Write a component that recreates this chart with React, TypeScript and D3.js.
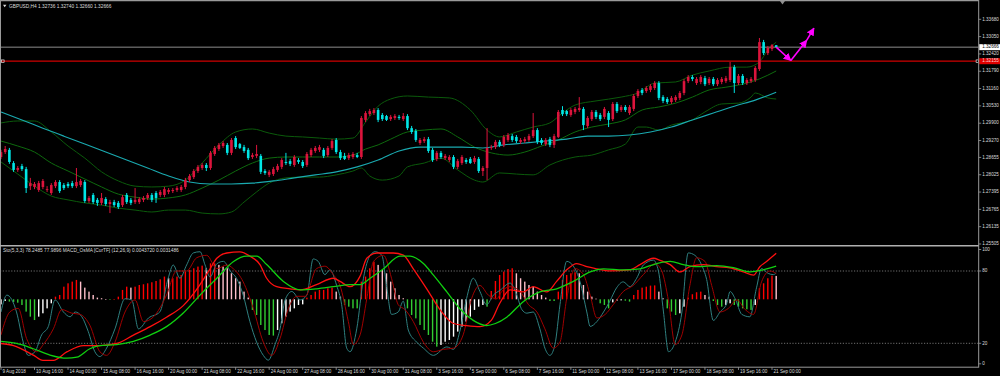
import React from "react";
import * as d3 from "d3";

const W = 1000;
const H = 376;

// ---------- price data (H4 bars, index 0 = 9 Aug 2018 08:00) ----------
const open = [1.2867,1.2885,1.2893,1.2845,1.2820,1.2834,1.2823,1.2761,1.2758,1.2747,1.2758,1.2747,1.2736,1.2761,1.2776,1.2765,1.2769,1.2772,1.2761,1.2765,
1.2776,1.2707,1.2729,1.2711,1.2700,1.2714,1.2696,1.2703,1.2700,1.2692,1.2729,1.2711,1.2703,1.2703,1.2711,1.2718,1.2729,1.2736,1.2729,1.2729,
1.2740,1.2743,1.2747,1.2747,1.2758,1.2783,1.2794,1.2816,1.2827,1.2838,1.2827,1.2878,1.2896,1.2907,1.2911,1.2882,1.2936,1.2914,1.2903,1.2893,
1.2867,1.2871,1.2871,1.2816,1.2802,1.2805,1.2820,1.2831,1.2849,1.2852,1.2838,1.2856,1.2849,1.2838,1.2874,1.2889,1.2893,1.2893,1.2874,1.2900,
1.2929,1.2885,1.2871,1.2863,1.2867,1.2874,1.2867,1.3002,1.3023,1.3027,1.3038,1.3020,1.3016,1.3005,1.3009,1.3013,1.3005,1.3016,1.2972,1.2962,
1.2918,1.2925,1.2932,1.2893,1.2860,1.2882,1.2863,1.2856,1.2867,1.2831,1.2845,1.2856,1.2860,1.2849,1.2860,1.2816,1.2827,1.2900,1.2903,1.2922,
1.2911,1.2929,1.2943,1.2940,1.2922,1.2925,1.2929,1.2943,1.2965,1.2929,1.2914,1.2932,1.2911,1.2940,1.3038,1.3034,1.3020,1.3031,1.3038,1.3042,
1.2980,1.3005,1.3031,1.3020,1.3013,1.3027,1.3005,1.3060,1.3038,1.3049,1.3027,1.3042,1.3089,1.3111,1.3107,1.3111,1.3118,1.3136,1.3085,1.3078,
1.3067,1.3074,1.3082,1.3100,1.3143,1.3158,1.3136,1.3140,1.3154,1.3136,1.3151,1.3132,1.3140,1.3143,1.3147,1.3194,1.3136,1.3162,1.3136,1.3143,
1.3147,1.3187,1.3285,1.3245,1.3260,1.32736];
const high = [1.2893,1.2907,1.2900,1.2852,1.2834,1.2842,1.2831,1.2791,1.2776,1.2780,1.2787,1.2761,1.2772,1.2783,1.2783,1.2772,1.2776,1.2780,1.2827,1.2787,
1.2783,1.2725,1.2736,1.2718,1.2736,1.2721,1.2711,1.2711,1.2707,1.2729,1.2736,1.2718,1.2754,1.2721,1.2725,1.2736,1.2736,1.2743,1.2747,1.2758,
1.2754,1.2754,1.2761,1.2765,1.2791,1.2805,1.2823,1.2838,1.2845,1.2845,1.2889,1.2907,1.2918,1.2925,1.2918,1.2936,1.2943,1.2918,1.2911,1.2900,
1.2882,1.2911,1.2878,1.2823,1.2820,1.2831,1.2842,1.2863,1.2882,1.2860,1.2874,1.2863,1.2856,1.2885,1.2900,1.2907,1.2911,1.2900,1.2907,1.2932,
1.2936,1.2893,1.2882,1.2882,1.2885,1.2882,1.3016,1.3034,1.3042,1.3045,1.3045,1.3027,1.3020,1.3020,1.3023,1.3020,1.3027,1.3023,1.2980,1.2969,
1.2936,1.2940,1.2940,1.2900,1.2889,1.2889,1.2878,1.2874,1.2874,1.2860,1.2874,1.2863,1.2867,1.2871,1.2867,1.2834,1.2972,1.2911,1.2929,1.2929,
1.2947,1.2954,1.2951,1.2947,1.2936,1.2940,1.2951,1.3027,1.2972,1.2936,1.2936,1.2940,1.2951,1.3038,1.3052,1.3038,1.3045,1.3049,1.3085,1.3049,
1.3016,1.3038,1.3038,1.3027,1.3049,1.3034,1.3067,1.3067,1.3056,1.3056,1.3056,1.3096,1.3114,1.3118,1.3125,1.3132,1.3143,1.3143,1.3092,1.3085,
1.3089,1.3092,1.3107,1.3151,1.3165,1.3165,1.3158,1.3165,1.3162,1.3158,1.3158,1.3154,1.3158,1.3162,1.3213,1.3202,1.3169,1.3169,1.3154,1.3158,
1.3198,1.3300,1.3293,1.3271,1.3278,1.32740];
const low = [1.2860,1.2878,1.2842,1.2813,1.2813,1.2816,1.2736,1.2747,1.2750,1.2740,1.2750,1.2740,1.2729,1.2754,1.2736,1.2747,1.2754,1.2754,1.2754,1.2758,
1.2700,1.2700,1.2696,1.2689,1.2692,1.2689,1.2663,1.2685,1.2678,1.2685,1.2696,1.2692,1.2696,1.2696,1.2703,1.2711,1.2703,1.2700,1.2721,1.2721,
1.2732,1.2736,1.2740,1.2740,1.2750,1.2776,1.2787,1.2809,1.2820,1.2816,1.2820,1.2871,1.2889,1.2900,1.2874,1.2874,1.2896,1.2896,1.2882,1.2856,
1.2860,1.2863,1.2805,1.2802,1.2794,1.2798,1.2813,1.2823,1.2838,1.2834,1.2831,1.2842,1.2827,1.2831,1.2867,1.2882,1.2885,1.2863,1.2867,1.2893,
1.2878,1.2856,1.2856,1.2856,1.2860,1.2863,1.2860,1.2994,1.3016,1.3020,1.2994,1.2998,1.2998,1.2998,1.3002,1.3002,1.2998,1.2965,1.2951,1.2922,
1.2911,1.2918,1.2882,1.2849,1.2852,1.2860,1.2856,1.2849,1.2823,1.2823,1.2838,1.2842,1.2842,1.2842,1.2809,1.2798,1.2783,1.2893,1.2896,1.2903,
1.2903,1.2922,1.2922,1.2918,1.2914,1.2918,1.2922,1.2936,1.2914,1.2911,1.2907,1.2903,1.2900,1.2936,1.3016,1.3016,1.3013,1.3023,1.3031,1.2965,
1.2972,1.2998,1.3005,1.2998,1.3005,1.2976,1.2998,1.3027,1.3031,1.3031,1.3020,1.3034,1.3082,1.3092,1.3100,1.3103,1.3111,1.3074,1.3063,1.3060,
1.3060,1.3067,1.3074,1.3092,1.3136,1.3143,1.3129,1.3132,1.3125,1.3129,1.3125,1.3125,1.3132,1.3136,1.3140,1.3100,1.3129,1.3129,1.3129,1.3136,
1.3140,1.3180,1.3238,1.3238,1.3253,1.32660];
const close = [1.2885,1.2896,1.2849,1.2820,1.2827,1.2823,1.2754,1.2772,1.2769,1.2772,1.2780,1.2750,1.2765,1.2776,1.2743,1.2754,1.2761,1.2761,1.2776,1.2780,
1.2707,1.2718,1.2703,1.2700,1.2718,1.2696,1.2703,1.2692,1.2685,1.2721,1.2703,1.2700,1.2711,1.2714,1.2718,1.2729,1.2711,1.2718,1.2740,1.2750,
1.2747,1.2747,1.2754,1.2758,1.2783,1.2798,1.2816,1.2831,1.2838,1.2827,1.2882,1.2900,1.2911,1.2918,1.2882,1.2929,1.2903,1.2900,1.2889,1.2863,
1.2874,1.2878,1.2813,1.2809,1.2813,1.2823,1.2834,1.2856,1.2845,1.2842,1.2867,1.2849,1.2834,1.2878,1.2893,1.2900,1.2903,1.2871,1.2900,1.2925,
1.2885,1.2863,1.2860,1.2874,1.2878,1.2867,1.3009,1.3027,1.3034,1.3038,1.3002,1.3005,1.3002,1.3013,1.3016,1.3009,1.3016,1.2972,1.2958,1.2929,
1.2929,1.2932,1.2889,1.2856,1.2882,1.2867,1.2871,1.2867,1.2831,1.2852,1.2867,1.2849,1.2845,1.2863,1.2816,1.2827,1.2900,1.2903,1.2922,1.2911,
1.2940,1.2947,1.2929,1.2925,1.2929,1.2932,1.2943,1.2965,1.2922,1.2918,1.2929,1.2911,1.2943,1.3031,1.3023,1.3023,1.3038,1.3042,1.3045,1.2983,
1.3009,1.3031,1.3013,1.3005,1.3042,1.3002,1.3060,1.3034,1.3049,1.3038,1.3049,1.3089,1.3107,1.3100,1.3118,1.3125,1.3136,1.3082,1.3071,1.3067,
1.3082,1.3085,1.3100,1.3143,1.3158,1.3151,1.3151,1.3158,1.3132,1.3151,1.3132,1.3147,1.3151,1.3154,1.3194,1.3136,1.3162,1.3136,1.3147,1.3151,
1.3191,1.3285,1.3245,1.3264,1.3274,1.32666];

// ---------- overlays on price chart: [bar index, price] ----------
const maLine: [number, number][] = [[0,1.3031],[5,1.3002],[10,1.2972],[15,1.2943],[20,1.2914],[25,1.2885],[30,1.2856],[35,1.2827],[40,1.2798],[45,1.2776],[50,1.2769],[55,1.2769],[60,1.2772],[65,1.2780],[70,1.2791],[75,1.2802],[80,1.2813],[85,1.2831],[90,1.2856],[95,1.2889],[100,1.2903],[105,1.2903],[110,1.2903],[115,1.2900],[120,1.2911],[125,1.2918],[130,1.2925],[135,1.2932],[140,1.2943],[145,1.2943],[150,1.2947],[155,1.2958],[160,1.2976],[165,1.3002],[170,1.3027],[175,1.3052],[180,1.3074],[185,1.3103]];
const bbUpper: [number, number][] = [[0,1.2991],[4,1.2998],[8,1.2998],[12,1.2958],[16,1.2907],[20,1.2863],[24,1.2813],[28,1.2780],[32,1.2761],[36,1.2758],[40,1.2761],[44,1.2783],[48,1.2845],[52,1.2911],[56,1.2958],[60,1.2969],[64,1.2954],[68,1.2943],[72,1.2940],[76,1.2936],[80,1.2932],[84,1.2936],[87,1.2994],[90,1.3052],[93,1.3078],[97,1.3089],[102,1.3085],[107,1.3082],[112,1.3038],[116,1.2965],[119,1.2940],[123,1.2958],[127,1.2976],[131,1.2991],[134,1.3027],[137,1.3056],[142,1.3071],[148,1.3085],[152,1.3100],[156,1.3136],[161,1.3140],[165,1.3165],[169,1.3180],[174,1.3194],[178,1.3194],[181,1.3213],[183,1.3256],[185,1.3285]];
const bbMiddle: [number, number][] = [[0,1.2925],[4,1.2907],[8,1.2885],[12,1.2845],[16,1.2816],[20,1.2787],[24,1.2758],[28,1.2732],[32,1.2721],[36,1.2714],[40,1.2718],[44,1.2729],[48,1.2754],[52,1.2783],[56,1.2816],[60,1.2845],[64,1.2863],[68,1.2867],[72,1.2867],[76,1.2867],[80,1.2867],[84,1.2874],[87,1.2896],[90,1.2911],[93,1.2932],[97,1.2958],[101,1.2965],[105,1.2969],[109,1.2940],[113,1.2903],[117,1.2882],[121,1.2874],[125,1.2885],[129,1.2907],[133,1.2929],[137,1.2958],[141,1.2976],[145,1.2987],[149,1.3002],[153,1.3038],[157,1.3049],[161,1.3063],[165,1.3085],[169,1.3111],[173,1.3121],[177,1.3132],[181,1.3151],[185,1.3180]];
const bbLower: [number, number][] = [[0,1.2849],[4,1.2805],[8,1.2761],[12,1.2725],[16,1.2711],[20,1.2700],[24,1.2692],[28,1.2681],[32,1.2674],[36,1.2667],[40,1.2674],[44,1.2674],[48,1.2663],[52,1.2660],[55,1.2667],[58,1.2703],[61,1.2740],[64,1.2772],[68,1.2791],[72,1.2794],[76,1.2794],[80,1.2802],[84,1.2816],[86,1.2827],[88,1.2798],[91,1.2783],[95,1.2798],[97,1.2831],[101,1.2845],[105,1.2863],[109,1.2820],[113,1.2783],[115,1.2776],[119,1.2809],[123,1.2805],[127,1.2802],[131,1.2838],[137,1.2867],[141,1.2874],[145,1.2893],[149,1.2914],[152,1.2976],[154,1.2976],[157,1.2965],[160,1.2983],[165,1.3002],[168,1.3031],[172,1.3060],[176,1.3063],[179,1.3085],[180,1.3100],[183,1.3082],[185,1.3078]];
const arrowPath: [number, number][] = [[185,1.32666],[188.5,1.3218],[192.3,1.3292],[194,1.3336]];

const bidPrice = 1.32666;
const levelPrice = 1.32155;
const priceTicks = [1.33680,1.33050,1.32420,1.31790,1.31160,1.30530,1.29900,1.29270,1.28655,1.28025,1.27395,1.26765,1.26135,1.25505];

// ---------- sub-window: Stochastic (0..100) and MACD_OsMA (x1e-4) ----------
const stochMain: [number, number][] = [[0,46],[1.4,60],[3.7,46],[5.3,21],[6.5,10],[8.1,13],[9.7,27],[11.3,34],[12.9,56],[14.9,46],[16.5,42],[17.7,46],[19.3,42],[20.8,30],[22.4,13],[23.6,9],[25.2,16],[27.2,32],[29.6,57],[31.2,56],[32.8,32],[35.2,41],[37.9,46],[39.9,74],[41.1,85],[42.7,74],[44.3,85],[45.9,95],[47.5,96],[48.7,85],[49.9,75],[51.5,86],[53.1,88],[54.7,80],[56.2,74],[57.8,60],[59.4,38],[61,21],[62.6,10],[63.8,6],[65.4,19],[66.6,32],[67.8,56],[69.4,63],[71.4,56],[73,60],[74.5,90],[75.7,88],[77.3,77],[78.5,81],[80.1,68],[81.3,52],[82.5,16],[83.3,13],[84.9,32],[86.5,74],[88.1,93],[89.3,96],[90.9,93],[92,68],[93.2,44],[94.8,46],[96,55],[97.2,31],[99.2,21],[100.8,16],[103.2,10],[106.4,17],[108,15],[109.5,30],[111.1,57],[112.7,74],[114.3,63],[115.9,52],[117.5,60],[119.1,64],[121.5,70],[123.1,60],[124.3,48],[125.5,45],[127,46],[128.6,32],[129.8,16],[131,10],[132.2,19],[133.4,52],[135,88],[136.6,84],[138.2,71],[139.8,46],[140.6,34],[142.2,38],[143.8,46],[145.3,55],[146.9,66],[148.5,71],[150.1,67],[151.7,74],[153.3,85],[155.7,89],[156.9,80],[158.1,46],[159.3,13],[160.9,21],[162.5,46],[164,95],[165.6,93],[167.2,85],[168.4,73],[170,39],[171.6,46],[173.2,53],[174,63],[175.2,57],[176.8,44],[178.7,42],[180.3,66],[181.5,82],[183.1,78],[184.3,77],[185,78.25]];
const stochSignal: [number, number][] = [[0,27],[2.1,46],[4.1,49],[6.1,24],[8.5,13],[10.1,19],[12.5,32],[14.5,48],[16.9,45],[18.9,44],[21.2,35],[23.6,13],[25.2,10],[27.2,21],[29.6,46],[32,56],[34,38],[36.4,42],[39.5,60],[41.9,80],[44.3,80],[46.7,91],[49.1,93],[51.5,82],[53.9,85],[55.4,82],[57.8,71],[60.2,49],[62.6,21],[64.6,10],[66.6,24],[68.6,49],[70.6,59],[72.6,59],[75.3,82],[77.3,84],[79.3,77],[80.9,68],[82.9,38],[84.1,19],[85.7,27],[87.3,57],[88.9,88],[91.3,93],[93.2,74],[94.8,52],[96.4,48],[98.4,38],[100.8,21],[103.2,13],[105.6,15],[108,16],[110.3,27],[112.3,57],[114.3,68],[116.3,60],[118.3,57],[119.5,63],[121.5,67],[123.9,63],[125.9,52],[127.9,46],[129.8,32],[131.8,16],[133.4,21],[135,57],[137,82],[139,77],[140.6,60],[142.2,41],[144.2,44],[146.1,52],[148.5,63],[150.9,68],[153.3,77],[156.1,86],[157.7,80],[159.3,55],[160.9,19],[162.5,27],[164.4,68],[166,91],[168,88],[169.6,68],[171.6,46],[173.6,49],[175.6,56],[177.6,48],[179.6,44],[181.5,71],[183.5,80],[185,77.99]];
const macdMain: [number, number][] = [[0,-42],[3,-44],[7.7,-53],[10,-58],[12.5,-58],[15.7,-50],[19.7,-44],[23.6,-44],[27.6,-42],[31.6,-34],[35.6,-26],[39.5,-17],[43.5,-6],[47.5,14],[49.9,29],[51.5,39],[53.9,44],[57,45],[59.4,41],[61.8,33],[63.4,20],[65.8,12],[69,10],[71.4,9],[75.3,14],[79.3,20],[80.9,17],[83.3,12],[85.7,22],[87.3,39],[89.7,44],[93.6,44],[96,42],[98.4,29],[101.6,10],[104.8,-10],[108,-23],[111.1,-25],[114.3,-26],[117,-20],[119,-4],[121.5,9],[124.7,7],[127,12],[130.2,7],[132.6,17],[135,28],[137.4,34],[139.8,31],[142.2,29],[145.3,27],[150.1,28],[152.5,33],[155.7,39],[157.3,37],[159.7,33],[162,26],[164.4,31],[167.6,33],[170.8,31],[173.9,30],[177.2,26],[179.6,23],[181.1,31],[182.7,36],[185,43.72]];
const macdSignal: [number, number][] = [[0,-40],[3.7,-42],[7.7,-47],[11.7,-53],[15.7,-56],[18.1,-55],[21.2,-47],[23.6,-44],[27.6,-43],[31.6,-40],[35.6,-34],[39.5,-26],[43.5,-13],[47.5,4],[51.5,20],[55.5,36],[58.6,41],[61,41],[63.4,33],[67.4,17],[71.4,9],[75.3,10],[79.3,12],[83.3,14],[85.7,14],[88.1,20],[91.3,29],[95.2,41],[97.6,41],[100.8,34],[103.2,23],[106.4,7],[109.5,-9],[112.7,-20],[115.9,-25],[118,-23],[120.7,-17],[124.7,-2],[128.6,7],[132.6,10],[136.6,17],[140.6,26],[143.8,29],[148.5,28],[152.5,29],[156.5,34],[159.7,36],[162.8,33],[166.1,31],[170.8,32],[174.8,30],[178.8,26],[181.9,28],[185,31.49]];
const osma = [-4.8,-1.6,-2.2,-2.5,-3.2,-5.4,-11.7,-16.5,-19.7,-16.5,-13.3,-8.6,-3.8,2.5,4.1,12.0,15.2,16.8,18.4,16.8,
11.1,7.3,4.1,1.6,1.0,0.3,-0.3,0.3,2.5,8.9,12.0,11.1,12.0,13.6,14.3,15.2,16.2,17.4,19.0,21.6,
20.0,20.0,21.6,23.1,26.3,27.9,29.5,31.1,32.0,29.5,34.2,34.2,32.7,31.1,29.5,24.7,20.0,16.8,7.3,1.6,
-10.1,-14.9,-24.4,-29.2,-33.9,-34.5,-29.2,-22.8,-16.5,-11.7,-8.6,-5.4,-4.8,1.6,4.1,7.3,8.9,8.9,10.5,11.1,
7.3,2.5,-5.4,-7.0,-8.6,-8.6,16.8,21.6,29.5,35.8,32.7,27.9,24.7,16.8,10.5,4.1,1.0,-8.6,-14.9,-18.1,
-24.4,-29.2,-33.9,-40.3,-45.0,-43.4,-40.3,-38.7,-35.5,-30.7,-26.0,-21.2,-16.5,-10.1,-7.0,-5.4,-7.0,7.9,17.4,23.1,
26.3,28.8,29.5,24.7,20.0,16.8,13.6,12.0,7.3,4.1,1.6,-1.6,-1.6,7.3,18.4,23.1,24.7,25.7,24.7,13.6,
7.3,2.5,0.6,-3.8,-5.4,-8.6,-2.9,-1.3,-1.0,-1.3,-2.2,4.1,8.9,11.1,12.0,13.0,13.2,7.3,1.0,-8.6,
-11.7,-14.9,-13.3,-7.0,1.6,4.8,6.7,7.3,4.1,2.5,-1.6,-5.4,-7.0,-5.4,-3.8,-5.4,-7.0,-8.6,-9.5,-10.1,
-5.4,10.5,15.2,20.0,22.5,22.2];
const stochLevels = [80, 20];
const stochAxisLabels = [100, 80, 20, 0];

const xTickLabels = ["9 Aug 2018","10 Aug 16:00","14 Aug 00:00","15 Aug 08:00","16 Aug 16:00","20 Aug 00:00","21 Aug 08:00","22 Aug 16:00","24 Aug 00:00","27 Aug 08:00","28 Aug 16:00","30 Aug 00:00","31 Aug 08:00","3 Sep 16:00","5 Sep 00:00","6 Sep 08:00","7 Sep 16:00","11 Sep 00:00","12 Sep 08:00","13 Sep 16:00","17 Sep 00:00","18 Sep 08:00","19 Sep 16:00","21 Sep 00:00"];
const xTickEvery = 8;

const titleMain = "GBPUSD,H4  1.32736 1.32740 1.32660 1.32666";
const titleSub = "Sto(5,3,3) 78.2485 77.9896   MACD_OsMA [CurTF] (12,26,9) 0.0043720 0.0031486";

const FONT = "'Liberation Sans', Arial, sans-serif";
const BULL = "#dc143c";
const BEAR = "#00e6e6";
const FRAME = "#9a9a9a";
const TXT = "#dcdcdc";

export default function App() {
  const axisX = 978.7;
  const x = d3.scaleLinear().domain([0, 184]).range([1, 772]);
  const y = d3.scaleLinear().domain([1.25505, 1.3368]).range([244, 19.3]);
  const yS = d3.scaleLinear().domain([0, 100]).range([367.4, 246.9]);
  const yM = d3.scaleLinear().domain([0, 43.72]).range([299.3, 253.3]);

  const priceLine = d3.line<[number, number]>().x((d) => x(d[0])).y((d) => y(d[1])).curve(d3.curveMonotoneX);
  const subLineS = d3.line<[number, number]>().x((d) => x(d[0])).y((d) => yS(d[1])).curve(d3.curveMonotoneX);
  const subLineM = d3.line<[number, number]>().x((d) => x(d[0])).y((d) => yM(d[1])).curve(d3.curveMonotoneX);
  const arrowLine = d3.line<[number, number]>().x((d) => x(d[0])).y((d) => y(d[1]));

  const bodyW = 2.6;
  const histW = 1.4;

  const histColor = (i: number) => {
    const v = osma[i];
    const p = i > 0 ? osma[i - 1] : v - 1;
    if (v >= 0) return v >= p ? "#ff0000" : "#ffc0cb";
    return v <= p ? "#32cd32" : "#ffffff";
  };

  return (
    <div style={{ position: "fixed", left: 0, top: 0, width: W, height: H, background: "#000" }}>
      <svg width={W} height={H} viewBox={`0 0 ${W} ${H}`} style={{ display: "block" }}>
        <defs>
          <clipPath id="mainClip"><rect x={0} y={1} width={axisX} height={244} /></clipPath>
          <clipPath id="subClip"><rect x={0} y={246.5} width={axisX} height={120.5} /></clipPath>
          <marker id="ah" viewBox="0 0 10 10" refX="9" refY="5" markerWidth="5" markerHeight="5" orient="auto">
            <path d="M0,0 L10,5 L0,10 z" fill="#ff00ff" />
          </marker>
        </defs>
        <rect x={0} y={0} width={W} height={H} fill="#000" />

        {/* ---------- main window ---------- */}
        <g clipPath="url(#mainClip)">
          <path d={priceLine(bbUpper) || ""} fill="none" stroke="#0b5a0b" strokeWidth={1} />
          <path d={priceLine(bbMiddle) || ""} fill="none" stroke="#0e6a0e" strokeWidth={1} />
          <path d={priceLine(bbLower) || ""} fill="none" stroke="#0b5a0b" strokeWidth={1} />
          <path d={priceLine(maLine) || ""} fill="none" stroke="#1aaab0" strokeWidth={1.1} />
          <line x1={0} x2={axisX} y1={y(bidPrice)} y2={y(bidPrice)} stroke="#8c8c8c" strokeWidth={1} />
          <line x1={0} x2={axisX} y1={y(levelPrice)} y2={y(levelPrice)} stroke="#d00000" strokeWidth={1.2} />
          {open.map((o, i) => {
            const c = close[i];
            const col = c >= o ? BULL : BEAR;
            const cx = x(i);
            const top = y(Math.max(o, c));
            const bot = y(Math.min(o, c));
            return (
              <g key={i}>
                <line x1={cx} x2={cx} y1={y(high[i])} y2={y(low[i])} stroke={col} strokeWidth={1} />
                <rect x={cx - bodyW / 2} y={top} width={bodyW} height={Math.max(0.8, bot - top)} fill={col} />
              </g>
            );
          })}
          <path d={arrowLine(arrowPath.slice(0, 2)) || ""} fill="none" stroke="#ff00ff" strokeWidth={1.6} markerEnd="url(#ah)" />
          <path d={arrowLine(arrowPath.slice(1, 3)) || ""} fill="none" stroke="#ff00ff" strokeWidth={1.6} markerEnd="url(#ah)" />
          <path d={arrowLine(arrowPath.slice(2, 4)) || ""} fill="none" stroke="#ff00ff" strokeWidth={1.6} markerEnd="url(#ah)" />
        </g>
        <rect x={1.5} y={y(levelPrice) - 1.3} width={2.6} height={2.6} fill="none" stroke="#ffffff" strokeWidth={0.6} />
        <rect x={axisX - 2.6} y={y(levelPrice) - 1.3} width={2.6} height={2.6} fill="#000" stroke="#ffffff" strokeWidth={0.6} />

        {/* title */}
        <path d="M3,4.8 L6.4,4.8 L4.7,7.2 z" fill={TXT} />
        <text x={9} y={6.3} fontFamily={FONT} fontSize={4.8} fill={TXT} dominantBaseline="middle">{titleMain}</text>

        {/* shift marker */}
        <path d={`M${x(186.5) - 2.5},1 L${x(186.5) + 2.5},1 L${x(186.5)},4.5 z`} fill="#8c8c8c" />

        {/* price axis */}
        {priceTicks.map((p) => (
          <g key={p}>
            <line x1={axisX} x2={axisX + 2.5} y1={y(p)} y2={y(p)} stroke={FRAME} strokeWidth={0.8} />
            <text x={axisX + 3.5} y={y(p)} fontFamily={FONT} fontSize={4.6} fill={TXT} dominantBaseline="middle">{p.toFixed(5)}</text>
          </g>
        ))}
        <rect x={axisX + 0.5} y={y(bidPrice) - 3} width={W - axisX - 0.5} height={6} fill="#ffffff" />
        <text x={axisX + 3.5} y={y(bidPrice)} fontFamily={FONT} fontSize={4.6} fill="#000" dominantBaseline="middle">{bidPrice.toFixed(5)}</text>
        <rect x={axisX + 0.5} y={y(levelPrice) - 3} width={W - axisX - 0.5} height={6} fill="#e00000" />
        <text x={axisX + 3.5} y={y(levelPrice)} fontFamily={FONT} fontSize={4.6} fill="#ffd0d0" dominantBaseline="middle">{levelPrice.toFixed(5)}</text>

        {/* ---------- sub window ---------- */}
        <g clipPath="url(#subClip)">
          {stochLevels.map((lv) => (
            <line key={lv} x1={0} x2={axisX} y1={yS(lv)} y2={yS(lv)} stroke="#8a8a8a" strokeWidth={0.8} strokeDasharray="1.2,1.6" />
          ))}
          {osma.map((v, i) => {
            const y0 = yM(0);
            const y1 = yM(v);
            return (
              <rect key={i} x={x(i) - histW / 2} y={Math.min(y0, y1)} width={histW} height={Math.max(0.6, Math.abs(y1 - y0))} fill={histColor(i)} />
            );
          })}
          <path d={subLineS(stochMain) || ""} fill="none" stroke="#2f8080" strokeWidth={1} />
          <path d={subLineS(stochSignal) || ""} fill="none" stroke="#a00000" strokeWidth={1} />
          <path d={subLineM(macdMain) || ""} fill="none" stroke="#ff1010" strokeWidth={1.3} />
          <path d={subLineM(macdSignal) || ""} fill="none" stroke="#10d010" strokeWidth={1.3} />
        </g>
        <text x={3} y={250.6} fontFamily={FONT} fontSize={4.8} fill={TXT} dominantBaseline="middle">{titleSub}</text>
        {stochAxisLabels.map((lv) => {
          const yy = lv === 100 ? yS(100) + 2.6 : lv === 0 ? yS(0) - 3.6 : yS(lv);
          return (
            <g key={lv}>
              <line x1={axisX} x2={axisX + 2.5} y1={yy} y2={yy} stroke={FRAME} strokeWidth={0.8} />
              <text x={axisX + 3.5} y={yy} fontFamily={FONT} fontSize={4.6} fill={TXT} dominantBaseline="middle">{lv}</text>
            </g>
          );
        })}

        {/* ---------- frame ---------- */}
        <line x1={0} x2={axisX} y1={0.6} y2={0.6} stroke={FRAME} strokeWidth={1.2} />
        <line x1={0.5} x2={0.5} y1={0} y2={367} stroke={FRAME} strokeWidth={1} />
        <line x1={axisX} x2={axisX} y1={0} y2={367.5} stroke={FRAME} strokeWidth={1} />
        <line x1={0} x2={axisX} y1={245.8} y2={245.8} stroke="#b0b0b0" strokeWidth={1.6} />
        <line x1={0} x2={axisX} y1={367.2} y2={367.2} stroke={FRAME} strokeWidth={1} />

        {/* time axis */}
        {xTickLabels.map((lab, k) => {
          const xx = x(k * xTickEvery);
          return (
            <g key={lab}>
              <line x1={xx} x2={xx} y1={367.2} y2={370} stroke={FRAME} strokeWidth={0.8} />
              <text x={xx + 1.5} y={372} fontFamily={FONT} fontSize={4.6} fill={TXT} dominantBaseline="middle">{lab}</text>
            </g>
          );
        })}
      </svg>
    </div>
  );
}
